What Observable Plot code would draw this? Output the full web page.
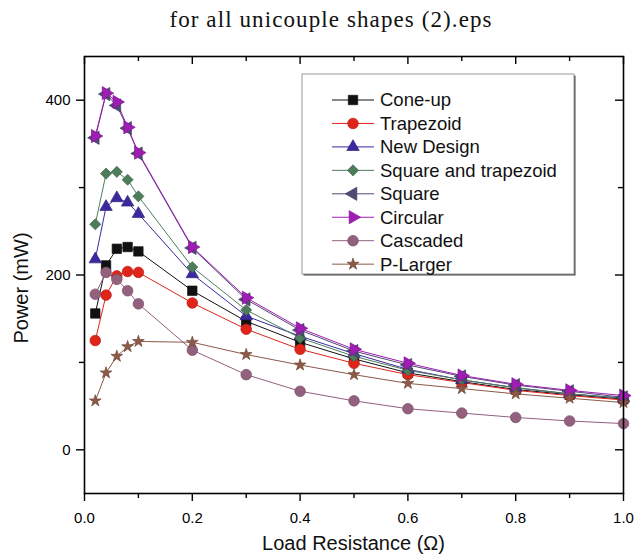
<!DOCTYPE html>
<html><head><meta charset="utf-8">
<script src="https://cdn.jsdelivr.net/npm/d3@7"></script>
<script src="https://cdn.jsdelivr.net/npm/@observablehq/plot@0.6"></script>
<style>body{margin:0;background:#fff}#chart{width:635px;height:557px}</style>
</head><body><div id="chart"></div>
<script>
// ---- data ----
const titleText = "for all unicouple shapes (2).eps";
const xLabel = "Load Resistance (Ω)";
const yLabel = "Power (mW)";
const loadResistance = [0.02,0.04,0.06,0.08,0.1,0.2,0.3,0.4,0.5,0.6,0.7,0.8,0.9,1.0];
const seriesNames = ["Cone-up","Trapezoid","New Design","Square and trapezoid","Square","Circular","Cascaded","P-Larger"];
const coneUp      = [156,211,230,232,227,182,147,123,104,88,78,69,63,58];
const trapezoid   = [125,177,199,204,203,168,138,115,99,86,77,68,62,57];
const newDesign   = [218,278,288,283,270,201,153,130,110,92,80,71,64,59];
const squareTrap  = [258,316,318,309,290,209,160,128,107,91,80,71,64,59];
const square      = [357,407,394,368,339,231,172,137,113,97,84,74,67,60];
const circular    = [359,408,398,369,340,232,174,139,115,99,85,75,68,62];
const cascaded    = [178,203,195,182,167,114,86,67,56,47,42,37,33,30];
const pLarger     = [56,88,107,118,124,123,109,97,86,76,70,64,59,54];
const seriesValues = [coneUp,trapezoid,newDesign,squareTrap,square,circular,cascaded,pLarger];
const seriesColors = ["#111111","#e0241a","#3b2a9e","#4e7d5c","#514a75","#a01db4","#93607e","#8c5a48"];
const xMajorTicks = [0,0.2,0.4,0.6,0.8,1.0];
const xMinorTicks = [0.1,0.3,0.5,0.7,0.9];
const yMajorTicks = [0,200,400];
const yMinorTicks = [100,300];

// ---- symbols ----
function triSymbol(dir){
  return {draw(ctx, size){
    const R = Math.sqrt(size/(3*Math.sqrt(3)/4));
    const a = R/2, b = R*Math.sqrt(3)/2;
    ctx.moveTo(dir*R,0); ctx.lineTo(-dir*a,-b); ctx.lineTo(-dir*a,b); ctx.closePath();
  }};
}
const seriesSymbols = [d3.symbolSquare, d3.symbolCircle, d3.symbolTriangle, d3.symbolDiamond2, triSymbol(-1), triSymbol(1), d3.symbolCircle, d3.symbolStar];
const seriesR = [5.3, 5.3, 4.6, 5.0, 4.9, 4.9, 5.3, 3.7];

const rows = [];
seriesNames.forEach((name, si) => loadResistance.forEach((x, i) => rows.push({series: name, si, x, y: seriesValues[si][i]})));

const W = 635, H = 557, mL = 84, mR = 12, mT = 56, mB = 64;
const plotW = W - mL - mR, plotH = H - mT - mB;

const marks = [];
seriesNames.forEach((name, si) => {
  marks.push(Plot.line(rows.filter(d => d.si === si), {x: "x", y: "y", stroke: seriesColors[si], strokeWidth: 1}));
});
seriesNames.forEach((name, si) => {
  marks.push(Plot.dot(rows.filter(d => d.si === si), {x: "x", y: "y", symbol: seriesSymbols[si], r: seriesR[si],
    fill: seriesColors[si], stroke: d3.color(seriesColors[si]).darker(0.6).formatHex(), strokeWidth: 0.7}));
});

const chart = Plot.plot({
  width: W, height: H, marginLeft: mL, marginRight: mR, marginTop: mT, marginBottom: mB,
  style: {fontFamily: "'Liberation Sans', Arial, sans-serif", background: "white", color: "black"},
  x: {domain: [0, 1]},
  y: {domain: [-50, 450]},
  marks: [
    ...marks,
    Plot.frame({stroke: "black", strokeWidth: 1.6}),
    Plot.axisX({ticks: xMajorTicks, tickSize: 8, tickFormat: d3.format(".1f"), fontSize: 15, tickPadding: 11, label: null, strokeWidth: 1.4}),
    Plot.axisX({ticks: xMinorTicks, tickSize: 5, tickFormat: () => "", label: null, strokeWidth: 1.4}),
    Plot.axisY({ticks: yMajorTicks, tickSize: 8, tickFormat: d3.format("d"), fontSize: 15, tickPadding: 6, label: null, strokeWidth: 1.4}),
    Plot.axisY({ticks: yMinorTicks, tickSize: 5, tickFormat: () => "", label: null, strokeWidth: 1.4}),
    Plot.tickX(xMajorTicks, {x: d => d, insetBottom: plotH - 8, stroke: "black", strokeWidth: 1.4}),
    Plot.tickX(xMinorTicks, {x: d => d, insetBottom: plotH - 5, stroke: "black", strokeWidth: 1.4}),
    Plot.tickY(yMajorTicks, {y: d => d, insetLeft: plotW - 8, stroke: "black", strokeWidth: 1.4}),
    Plot.tickY(yMinorTicks, {y: d => d, insetLeft: plotW - 5, stroke: "black", strokeWidth: 1.4})
  ]
});
document.getElementById("chart").appendChild(chart);

const svg = d3.select(chart);
// ---- titles ----
svg.append("text").attr("x", 331).attr("y", 27).attr("text-anchor", "middle")
  .attr("font-family", "'Liberation Serif', serif").attr("font-size", 23).attr("letter-spacing", "1.1px")
  .attr("fill", "#111").text(titleText);
svg.append("text").attr("x", mL + plotW / 2).attr("y", 550).attr("text-anchor", "middle")
  .attr("font-size", 20).attr("fill", "#111").text(xLabel);
svg.append("text").attr("transform", "translate(28,288) rotate(-90)").attr("text-anchor", "middle")
  .attr("font-size", 20).attr("fill", "#111").text(yLabel);

// ---- legend ----
const lg = svg.append("g");
const bx = 302, by = 74, bw = 272, bh = 200;
lg.append("rect").attr("x", bx + 1.5).attr("y", by + 1.5).attr("width", bw).attr("height", bh).attr("fill", "#444");
lg.append("rect").attr("x", bx).attr("y", by).attr("width", bw).attr("height", bh).attr("fill", "white").attr("stroke", "#999").attr("stroke-width", 1);
seriesNames.forEach((name, i) => {
  const yy = by + 26 + i * 23.45;
  lg.append("line").attr("x1", 332).attr("x2", 374).attr("y1", yy).attr("y2", yy).attr("stroke", seriesColors[i]).attr("stroke-width", 1);
  lg.append("path").attr("transform", `translate(353,${yy})`)
    .attr("d", d3.symbol(seriesSymbols[i], Math.PI * seriesR[i] * seriesR[i])())
    .attr("fill", seriesColors[i]).attr("stroke", d3.color(seriesColors[i]).darker(0.6).formatHex()).attr("stroke-width", 0.7);
  lg.append("text").attr("x", 380).attr("y", yy).attr("dy", "0.35em").attr("text-anchor", "start")
    .attr("font-size", 18.5).attr("fill", "#111").text(name);
});
</script></body></html>
